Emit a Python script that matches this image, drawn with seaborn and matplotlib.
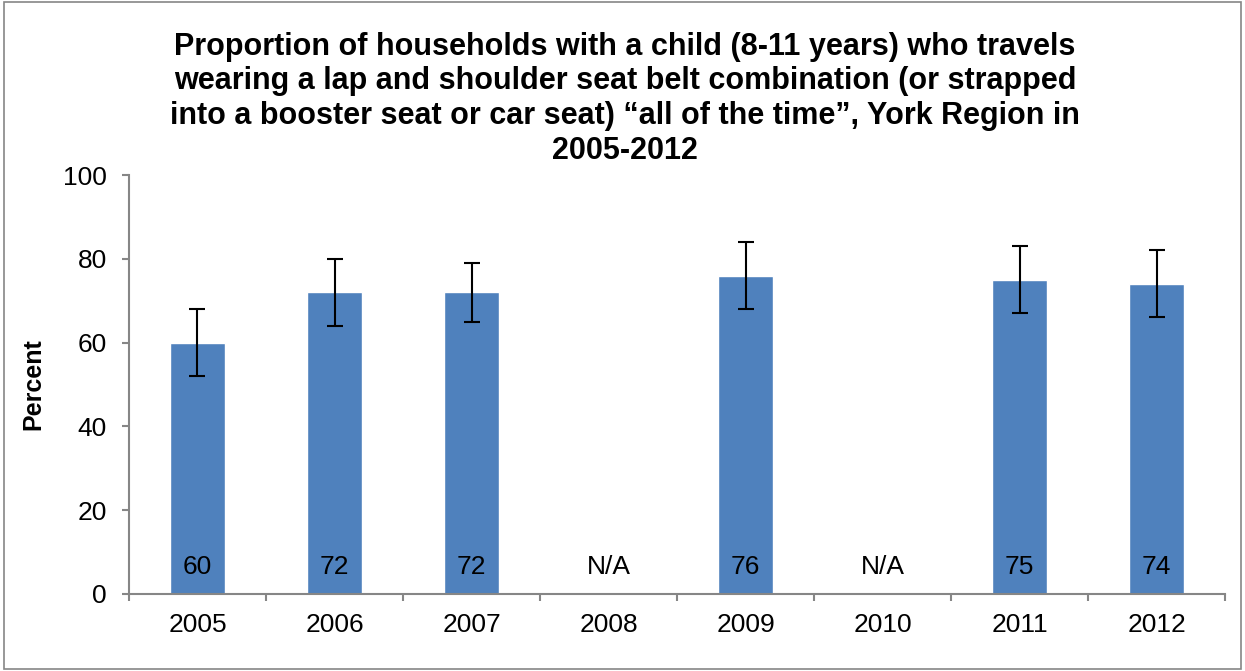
import matplotlib
matplotlib.use("Agg")
import matplotlib.pyplot as plt
import numpy as np
import pandas as pd
import seaborn as sns
from matplotlib.patches import Rectangle

sns.set_style("white")
plt.rcParams["font.family"] = ["Liberation Sans", "DejaVu Sans"]
plt.rcParams["text.color"] = "black"
plt.rcParams["axes.labelcolor"] = "black"

years = ["2005", "2006", "2007", "2008", "2009", "2010", "2011", "2012"]
percent = [60, 72, 72, np.nan, 76, np.nan, 75, 74]
ci_low = [52, 64, 65, np.nan, 68, np.nan, 67, 66]
ci_high = [68, 80, 79, np.nan, 84, np.nan, 83, 82]
bar_labels = ["60", "72", "72", "N/A", "76", "N/A", "75", "74"]

df = pd.DataFrame({"year": years, "percent": percent, "low": ci_low, "high": ci_high})

fig = plt.figure(figsize=(12.45, 6.71), dpi=100)
ax = fig.add_axes([0.1036, 0.115, 0.8804, 0.624])

sns.barplot(data=df, x="year", y="percent", color="#4F81BD", saturation=1,
            width=0.4, ax=ax)

# confidence intervals
pos = np.arange(len(years))
val = df["percent"].to_numpy()
err = np.vstack([val - df["low"].to_numpy(), df["high"].to_numpy() - val])
ax.errorbar(pos, val, yerr=err, fmt="none", ecolor="black", elinewidth=1.5,
            capsize=6, capthick=1.5)

for i, lab in enumerate(bar_labels):
    ax.text(i, 6.3, lab, ha="center", va="center", fontsize=19, color="black")

ax.set_ylim(0, 100)
ax.set_xlim(-0.5, len(years) - 0.5)
ax.set_yticks(range(0, 101, 20))
ax.set_xlabel("")
ax.set_ylabel("Percent", fontsize=18, fontweight="bold")
ax.yaxis.set_label_coords(-0.076, 0.5)

ax.tick_params(axis="both", labelsize=19, labelcolor="black")
ax.tick_params(axis="y", left=True, length=5, width=1.5, color="#868686",
               direction="out", pad=11)
ax.set_xticks(np.arange(-0.5, len(years), 1), minor=True)
ax.tick_params(axis="x", which="minor", bottom=True, length=5, width=1.5,
               color="#868686", direction="out")
ax.tick_params(axis="x", which="major", bottom=False, length=0, pad=14)

for side in ["top", "right"]:
    ax.spines[side].set_visible(False)
for side in ["left", "bottom"]:
    ax.spines[side].set_color("#868686")
    ax.spines[side].set_linewidth(1.5)

fig.text(0.502, 0.953,
         "Proportion of households with a child (8-11 years) who travels\n"
         "wearing a lap and shoulder seat belt combination (or strapped\n"
         "into a booster seat or car seat) \u201call of the time\u201d, York Region in\n"
         "2005-2012",
         ha="center", va="top", fontsize=22, fontweight="bold", linespacing=1.21,
         color="black")

fig.patches.append(Rectangle((0.003, 0.003), 0.994, 0.994, transform=fig.transFigure,
                             fill=False, edgecolor="#868686", linewidth=1.2))

fig.savefig("out.png", dpi=100)
plt.close(fig)
